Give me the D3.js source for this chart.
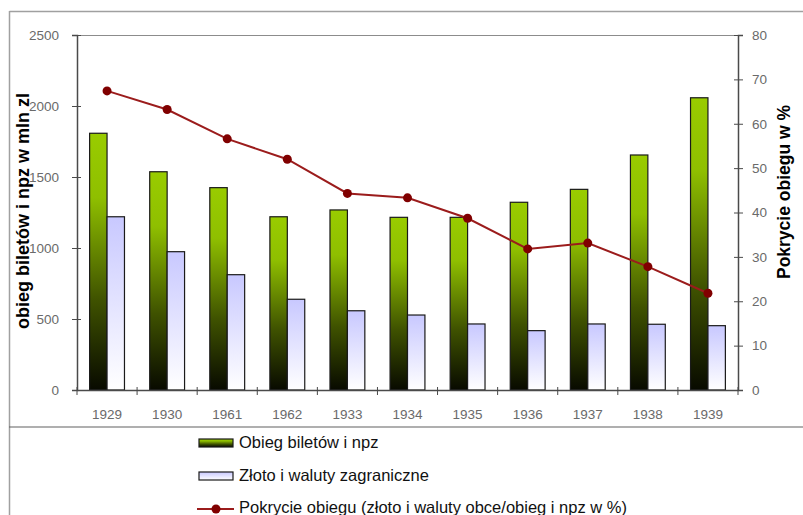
<!DOCTYPE html>
<html>
<head>
<meta charset="utf-8">
<script src="https://cdn.jsdelivr.net/npm/d3@7"></script>
<style>
  html, body { margin: 0; padding: 0; background: #fff; }
  svg { display: block; font-family: Arial, "Liberation Sans", sans-serif; }
</style>
</head>
<body>
<svg id="chart" width="803" height="515"></svg>
<script>
// Years on the category axis (as printed on the source table)
const years = ["1929", "1930", "1961", "1962", "1933", "1934", "1935", "1936", "1937", "1938", "1939"];
// Banknote and bank-note circulation, mln zł
const circulation = [1808, 1537, 1425, 1220, 1268, 1216, 1216, 1322, 1413, 1655, 2058];
// Gold and foreign currency reserves, mln zł
const reserves = [1220, 974, 812, 639, 558, 528, 465, 418, 465, 463, 453];
// Coverage of circulation, %
const coverage = [67.4, 63.2, 56.6, 52.0, 44.3, 43.3, 38.7, 31.8, 33.1, 27.8, 21.8];

const leftTicks = [0, 500, 1000, 1500, 2000, 2500];
const rightTicks = [0, 10, 20, 30, 40, 50, 60, 70, 80];

const seriesNames = [
  "Obieg biletów i npz",
  "Złoto i waluty zagraniczne",
  "Pokrycie obiegu (złoto i waluty obce/obieg i npz w %)"
];

const svg = d3.select("#chart");
const plot = { left: 77, right: 738, top: 35, bottom: 390 };

// Gradients for the bar fills
const defs = svg.append("defs");
const gGreen = defs.append("linearGradient").attr("id", "gradGreen")
  .attr("x1", 0).attr("y1", 0).attr("x2", 0).attr("y2", 1);
gGreen.append("stop").attr("offset", "0%").attr("stop-color", "#99cc00");
gGreen.append("stop").attr("offset", "25%").attr("stop-color", "#8fbf00");
gGreen.append("stop").attr("offset", "65%").attr("stop-color", "#3f5200");
gGreen.append("stop").attr("offset", "100%").attr("stop-color", "#080a00");
const gBlue = defs.append("linearGradient").attr("id", "gradBlue")
  .attr("x1", 0).attr("y1", 0).attr("x2", 0).attr("y2", 1);
gBlue.append("stop").attr("offset", "0%").attr("stop-color", "#c8c8ff");
gBlue.append("stop").attr("offset", "100%").attr("stop-color", "#ffffff");

// Outer frame and legend separator
svg.append("line").attr("x1", 9.5).attr("x2", 803).attr("y1", 11.5).attr("y2", 11.5)
  .attr("stroke", "#a0a0a0").attr("stroke-width", 1.5);
svg.append("line").attr("x1", 9.5).attr("x2", 9.5).attr("y1", 11).attr("y2", 515)
  .attr("stroke", "#a0a0a0").attr("stroke-width", 1.5);
svg.append("line").attr("x1", 9).attr("x2", 803).attr("y1", 427).attr("y2", 427)
  .attr("stroke", "#606060").attr("stroke-width", 1.2);

// Scales
const x = d3.scaleBand().domain(years).range([plot.left, plot.right]).paddingInner(0).paddingOuter(0);
const yL = d3.scaleLinear().domain([0, 2500]).range([plot.bottom, plot.top]);
const yR = d3.scaleLinear().domain([0, 80]).range([plot.bottom, plot.top]);
const barW = x.bandwidth() * 0.29;

// Plot area top border
svg.append("line").attr("x1", plot.left).attr("x2", plot.right)
  .attr("y1", plot.top + 0.5).attr("y2", plot.top + 0.5)
  .attr("stroke", "#8c8c8c").attr("stroke-width", 1);

// Bars
const center = d => x(d) + x.bandwidth() / 2;
svg.append("g").selectAll("rect").data(years).join("rect")
  .attr("x", d => center(d) - barW)
  .attr("y", (d, i) => yL(circulation[i]))
  .attr("width", barW)
  .attr("height", (d, i) => yL(0) - yL(circulation[i]))
  .attr("fill", "url(#gradGreen)")
  .attr("stroke", "#1a1a1a").attr("stroke-width", 1.2);
svg.append("g").selectAll("rect").data(years).join("rect")
  .attr("x", d => center(d))
  .attr("y", (d, i) => yL(reserves[i]))
  .attr("width", barW)
  .attr("height", (d, i) => yL(0) - yL(reserves[i]))
  .attr("fill", "url(#gradBlue)")
  .attr("stroke", "#1a1a1a").attr("stroke-width", 1.2);

// Axes
const axisColor = "#4a4a4a";
const tickColor = "#6a6a6a";
const fmt = d3.format("d");

const leftAxis = svg.append("g").attr("transform", `translate(${plot.left},0)`)
  .call(d3.axisLeft(yL).tickValues(leftTicks).tickFormat(fmt).tickSize(5).tickPadding(13));
const rightAxis = svg.append("g").attr("transform", `translate(${plot.right},0)`)
  .call(d3.axisRight(yR).tickValues(rightTicks).tickFormat(fmt).tickSize(5).tickPadding(9));
const bottomAxis = svg.append("g").attr("transform", `translate(0,${plot.bottom})`)
  .call(d3.axisBottom(x).tickSize(0).tickPadding(19));

[leftAxis, rightAxis, bottomAxis].forEach(a => {
  a.select(".domain").attr("stroke", axisColor).attr("stroke-width", 1.5);
  a.selectAll(".tick line").attr("stroke", axisColor);
  a.selectAll(".tick text").attr("fill", tickColor).attr("font-size", 13.5)
    .attr("font-family", "Arial, 'Liberation Sans', sans-serif");
});
// Ticks cross the vertical axis lines
leftAxis.selectAll(".tick line").attr("x1", 4);
rightAxis.selectAll(".tick line").attr("x1", -4);

// Category boundary tick marks on the bottom axis
const boundaries = x.domain().map(d => x(d)).concat([plot.right]);
svg.append("g").selectAll("line").data(boundaries).join("line")
  .attr("x1", d => d).attr("x2", d => d)
  .attr("y1", plot.bottom - 3).attr("y2", plot.bottom + 5)
  .attr("stroke", axisColor);

// Coverage line
const line = d3.line().x((d, i) => center(years[i])).y(d => yR(d));
svg.append("path").datum(coverage).attr("d", line)
  .attr("fill", "none").attr("stroke", "#9b1c1c").attr("stroke-width", 2);
svg.append("g").selectAll("circle").data(coverage).join("circle")
  .attr("cx", (d, i) => center(years[i])).attr("cy", d => yR(d)).attr("r", 4.5)
  .attr("fill", "#800000");

// Axis titles
svg.append("text")
  .attr("transform", "translate(29,211) rotate(-90)")
  .attr("text-anchor", "middle").attr("font-size", 18).attr("font-weight", "bold")
  .text("obieg biletów i npz w mln zl");
svg.append("text")
  .attr("transform", "translate(790,192) rotate(-90)")
  .attr("text-anchor", "middle").attr("font-size", 17.5).attr("font-weight", "bold")
  .text("Pokrycie obiegu w %");

// Legend
const legend = svg.append("g");
const legY = [443, 476, 509];
const swX = 199, swW = 34;
legend.append("rect").attr("x", swX).attr("y", legY[0] - 4).attr("width", swW).attr("height", 8)
  .attr("fill", "url(#gradGreen)").attr("stroke", "#1a1a1a").attr("stroke-width", 1.2);
legend.append("rect").attr("x", swX).attr("y", legY[1] - 4).attr("width", swW).attr("height", 8)
  .attr("fill", "url(#gradBlue)").attr("stroke", "#1a1a1a").attr("stroke-width", 1.2);
legend.append("line").attr("x1", swX - 2).attr("x2", swX + swW + 1)
  .attr("y1", legY[2]).attr("y2", legY[2]).attr("stroke", "#9b1c1c").attr("stroke-width", 2);
legend.append("circle").attr("cx", swX + swW / 2).attr("cy", legY[2]).attr("r", 4.5).attr("fill", "#800000");
legend.selectAll("text").data(seriesNames).join("text")
  .attr("x", 239).attr("y", (d, i) => [448, 481, 513][i])
  .attr("font-size", 16.5).attr("fill", "#111")
  .text(d => d);
</script>
</body>
</html>
